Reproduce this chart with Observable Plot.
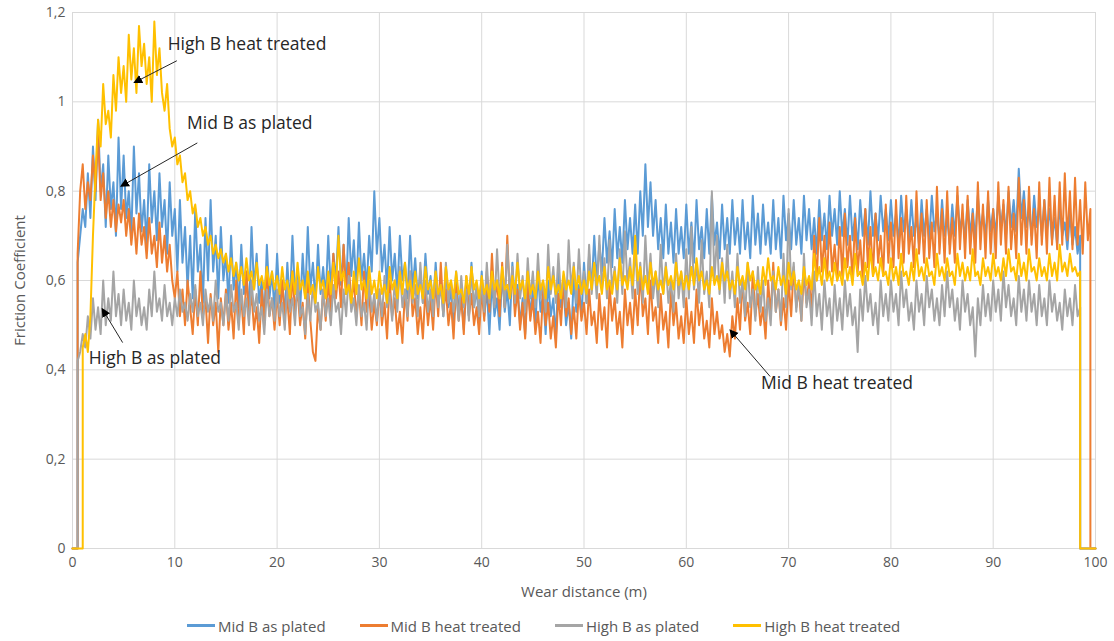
<!DOCTYPE html>
<html>
<head>
<meta charset="utf-8">
<script src="https://cdn.jsdelivr.net/npm/d3@7"></script>
<script src="https://cdn.jsdelivr.net/npm/@observablehq/plot@0.6"></script>
<style>
  body { margin: 0; background: #fff; font-family: "Open Sans", "Liberation Sans", sans-serif; }
  #legend { display: flex; align-items: center; margin-left: 187px; height: 31px; font-size: 15px; color: #595959; }
  #legend .item { display: flex; align-items: center; margin-right: 34px; }
  #legend .sw { width: 28px; height: 3px; margin-right: 3px; }
</style>
</head>
<body>
<div id="chart"></div>
<div id="legend"></div>
<script>
// Sampling grid of the wear distance (m)
const step = 0.25;
const seriesNames = ["Mid B as plated", "Mid B heat treated", "High B as plated", "High B heat treated"];
const seriesColors = ["#5B9BD5", "#ED7D31", "#A5A5A5", "#FFC000"];
const xTicks = [0, 10, 20, 30, 40, 50, 60, 70, 80, 90, 100];
const yTicks = [0, 0.2, 0.4, 0.6, 0.8, 1, 1.2];

const midAsPlated = [
  0, 0, 0.64, 0.70, 0.76, 0.72, 0.84, 0.74, 0.90, 0.78, 0.96, 0.80, 0.86, 0.72, 0.88, 0.76, 0.82, 0.70, 0.92, 0.76,
  0.88, 0.74, 0.80, 0.70, 0.90, 0.75, 0.84, 0.71, 0.78, 0.68, 0.86, 0.73, 0.80, 0.69, 0.84, 0.72, 0.78, 0.66, 0.82, 0.70,
  0.76, 0.62, 0.78, 0.64, 0.72, 0.58, 0.70, 0.56, 0.76, 0.62, 0.68, 0.55, 0.74, 0.60, 0.78, 0.62, 0.70, 0.56, 0.72, 0.60,
  0.66, 0.55, 0.70, 0.58, 0.64, 0.54, 0.68, 0.57, 0.62, 0.52, 0.72, 0.58, 0.66, 0.55, 0.60, 0.51, 0.68, 0.56, 0.62, 0.53,
  0.66, 0.55, 0.60, 0.52, 0.64, 0.54, 0.70, 0.57, 0.62, 0.53, 0.66, 0.56, 0.72, 0.58, 0.64, 0.55, 0.68, 0.57, 0.63, 0.56,
  0.70, 0.58, 0.66, 0.60, 0.72, 0.59, 0.68, 0.57, 0.74, 0.61, 0.69, 0.58, 0.73, 0.60, 0.66, 0.58, 0.70, 0.62, 0.80, 0.66,
  0.74, 0.62, 0.68, 0.58, 0.72, 0.60, 0.66, 0.57, 0.70, 0.60, 0.64, 0.56, 0.70, 0.58, 0.65, 0.56, 0.62, 0.55, 0.66, 0.57,
  0.61, 0.54, 0.64, 0.55, 0.60, 0.52, 0.63, 0.54, 0.58, 0.50, 0.62, 0.53, 0.57, 0.49, 0.60, 0.52, 0.64, 0.54, 0.58, 0.51,
  0.62, 0.52, 0.58, 0.48, 0.60, 0.52, 0.56, 0.49, 0.62, 0.53, 0.58, 0.50, 0.64, 0.54, 0.59, 0.50, 0.56, 0.48, 0.61, 0.52,
  0.58, 0.50, 0.62, 0.53, 0.57, 0.48, 0.60, 0.52, 0.56, 0.47, 0.62, 0.54, 0.58, 0.50, 0.55, 0.47, 0.61, 0.53, 0.59, 0.52,
  0.64, 0.55, 0.66, 0.58, 0.70, 0.60, 0.68, 0.62, 0.74, 0.64, 0.71, 0.63, 0.76, 0.65, 0.72, 0.64, 0.78, 0.67, 0.74, 0.66,
  0.77, 0.66, 0.80, 0.70, 0.86, 0.72, 0.82, 0.70, 0.78, 0.67, 0.74, 0.65, 0.77, 0.66, 0.73, 0.64, 0.76, 0.66, 0.72, 0.65,
  0.77, 0.66, 0.73, 0.64, 0.78, 0.67, 0.72, 0.65, 0.76, 0.66, 0.79, 0.68, 0.73, 0.65, 0.77, 0.67, 0.74, 0.66, 0.78, 0.68,
  0.74, 0.66, 0.78, 0.67, 0.73, 0.65, 0.79, 0.68, 0.75, 0.66, 0.77, 0.68, 0.73, 0.66, 0.78, 0.67, 0.74, 0.65, 0.79, 0.69,
  0.75, 0.67, 0.78, 0.68, 0.74, 0.66, 0.79, 0.69, 0.76, 0.67, 0.74, 0.66, 0.78, 0.69, 0.75, 0.67, 0.79, 0.70, 0.76, 0.68,
  0.80, 0.70, 0.76, 0.68, 0.79, 0.69, 0.75, 0.67, 0.78, 0.70, 0.76, 0.68, 0.80, 0.70, 0.75, 0.69, 0.79, 0.71, 0.76, 0.69,
  0.78, 0.70, 0.75, 0.68, 0.79, 0.71, 0.76, 0.69, 0.78, 0.70, 0.74, 0.68, 0.78, 0.70, 0.76, 0.69, 0.79, 0.71, 0.75, 0.69,
  0.78, 0.70, 0.74, 0.68, 0.77, 0.70, 0.79, 0.71, 0.75, 0.69, 0.78, 0.70, 0.76, 0.69, 0.79, 0.71, 0.75, 0.70, 0.78, 0.71,
  0.76, 0.70, 0.79, 0.72, 0.77, 0.70, 0.80, 0.72, 0.78, 0.71, 0.85, 0.74, 0.80, 0.72, 0.76, 0.70, 0.79, 0.72, 0.77, 0.70,
  0.78, 0.71, 0.76, 0.69, 0.74, 0.68, 0.77, 0.70, 0.73, 0.67, 0.75, 0.68, 0.72, 0.66, 0.70, 0, 0, 0, 0, 0,
  0
];
const midHeatTreated = [
  0, 0, 0.66, 0.80, 0.86, 0.76, 0.82, 0.78, 0.88, 0.80, 0.93, 0.78, 0.84, 0.74, 0.80, 0.72, 0.78, 0.71, 0.77, 0.73,
  0.78, 0.70, 0.76, 0.68, 0.74, 0.66, 0.75, 0.68, 0.72, 0.65, 0.74, 0.66, 0.70, 0.63, 0.73, 0.64, 0.70, 0.62, 0.68, 0.60,
  0.56, 0.62, 0.52, 0.58, 0.50, 0.60, 0.54, 0.48, 0.58, 0.50, 0.62, 0.52, 0.56, 0.46, 0.57, 0.50, 0.55, 0.44, 0.56, 0.50,
  0.58, 0.49, 0.55, 0.47, 0.60, 0.51, 0.56, 0.48, 0.62, 0.52, 0.57, 0.49, 0.54, 0.46, 0.58, 0.50, 0.63, 0.52, 0.56, 0.49,
  0.57, 0.50, 0.60, 0.52, 0.56, 0.48, 0.62, 0.53, 0.58, 0.50, 0.55, 0.47, 0.60, 0.51, 0.44, 0.42, 0.54, 0.49, 0.58, 0.51,
  0.60, 0.53, 0.66, 0.56, 0.62, 0.54, 0.68, 0.57, 0.64, 0.55, 0.60, 0.52, 0.58, 0.50, 0.62, 0.53, 0.57, 0.49, 0.55, 0.50,
  0.58, 0.50, 0.55, 0.47, 0.60, 0.52, 0.56, 0.48, 0.53, 0.46, 0.58, 0.51, 0.62, 0.52, 0.56, 0.48, 0.54, 0.47, 0.58, 0.50,
  0.56, 0.49, 0.60, 0.52, 0.64, 0.53, 0.58, 0.50, 0.55, 0.47, 0.59, 0.51, 0.56, 0.48, 0.61, 0.52, 0.57, 0.50, 0.54, 0.48,
  0.58, 0.51, 0.62, 0.53, 0.66, 0.55, 0.60, 0.52, 0.64, 0.54, 0.70, 0.56, 0.62, 0.52, 0.58, 0.49, 0.55, 0.47, 0.59, 0.51,
  0.56, 0.48, 0.53, 0.46, 0.58, 0.50, 0.55, 0.47, 0.52, 0.45, 0.57, 0.50, 0.60, 0.52, 0.56, 0.48, 0.54, 0.47, 0.58, 0.51,
  0.55, 0.48, 0.58, 0.50, 0.53, 0.46, 0.57, 0.49, 0.54, 0.45, 0.59, 0.51, 0.56, 0.48, 0.53, 0.45, 0.58, 0.50, 0.55, 0.48,
  0.58, 0.50, 0.62, 0.52, 0.56, 0.48, 0.60, 0.51, 0.54, 0.46, 0.57, 0.49, 0.53, 0.45, 0.58, 0.50, 0.55, 0.47, 0.52, 0.46,
  0.56, 0.48, 0.53, 0.46, 0.58, 0.50, 0.55, 0.47, 0.51, 0.45, 0.56, 0.48, 0.53, 0.47, 0.50, 0.44, 0.48, 0.43, 0.52, 0.47,
  0.56, 0.49, 0.60, 0.51, 0.55, 0.48, 0.62, 0.52, 0.57, 0.50, 0.54, 0.47, 0.60, 0.52, 0.64, 0.53, 0.58, 0.50, 0.56, 0.49,
  0.60, 0.52, 0.63, 0.54, 0.58, 0.51, 0.62, 0.55, 0.60, 0.53, 0.70, 0.60, 0.74, 0.62, 0.70, 0.60, 0.73, 0.62, 0.68, 0.60,
  0.72, 0.61, 0.75, 0.63, 0.70, 0.60, 0.74, 0.62, 0.69, 0.60, 0.76, 0.63, 0.72, 0.61, 0.75, 0.64, 0.70, 0.61, 0.77, 0.64,
  0.73, 0.63, 0.78, 0.65, 0.74, 0.64, 0.79, 0.66, 0.72, 0.63, 0.80, 0.66, 0.75, 0.64, 0.78, 0.65, 0.73, 0.63, 0.81, 0.66,
  0.76, 0.64, 0.80, 0.66, 0.74, 0.64, 0.81, 0.67, 0.77, 0.65, 0.79, 0.66, 0.75, 0.64, 0.82, 0.67, 0.77, 0.65, 0.80, 0.66,
  0.76, 0.65, 0.82, 0.68, 0.78, 0.66, 0.81, 0.67, 0.75, 0.65, 0.83, 0.68, 0.78, 0.66, 0.81, 0.68, 0.76, 0.65, 0.82, 0.68,
  0.78, 0.66, 0.83, 0.68, 0.79, 0.67, 0.82, 0.68, 0.84, 0.69, 0.80, 0.67, 0.83, 0.68, 0.78, 0.66, 0.82, 0.69, 0.76, 0,
  0
];
const highAsPlated = [
  0, 0, 0.42, 0.44, 0.48, 0.45, 0.52, 0.47, 0.56, 0.49, 0.54, 0.48, 0.60, 0.50, 0.56, 0.51, 0.62, 0.52, 0.57, 0.50,
  0.58, 0.51, 0.55, 0.49, 0.60, 0.52, 0.56, 0.50, 0.54, 0.49, 0.58, 0.52, 0.62, 0.53, 0.56, 0.51, 0.59, 0.52, 0.55, 0.50,
  0.56, 0.52, 0.58, 0.53, 0.55, 0.51, 0.57, 0.53, 0.59, 0.52, 0.55, 0.50, 0.58, 0.53, 0.56, 0.51, 0.60, 0.53, 0.55, 0.50,
  0.57, 0.51, 0.59, 0.53, 0.55, 0.49, 0.58, 0.52, 0.56, 0.50, 0.60, 0.53, 0.57, 0.51, 0.54, 0.48, 0.58, 0.52, 0.56, 0.51,
  0.58, 0.52, 0.55, 0.49, 0.59, 0.53, 0.56, 0.50, 0.60, 0.52, 0.54, 0.48, 0.57, 0.51, 0.59, 0.53, 0.55, 0.49, 0.58, 0.52,
  0.56, 0.50, 0.59, 0.53, 0.55, 0.48, 0.58, 0.52, 0.61, 0.53, 0.56, 0.50, 0.59, 0.52, 0.55, 0.49, 0.60, 0.53, 0.57, 0.51,
  0.58, 0.52, 0.61, 0.54, 0.57, 0.51, 0.60, 0.53, 0.63, 0.54, 0.58, 0.52, 0.62, 0.55, 0.59, 0.52, 0.64, 0.55, 0.60, 0.53,
  0.58, 0.52, 0.62, 0.54, 0.59, 0.52, 0.64, 0.55, 0.60, 0.53, 0.57, 0.51, 0.61, 0.54, 0.58, 0.51, 0.63, 0.54, 0.59, 0.52,
  0.60, 0.53, 0.64, 0.55, 0.61, 0.54, 0.67, 0.56, 0.62, 0.54, 0.68, 0.57, 0.63, 0.55, 0.66, 0.56, 0.61, 0.53, 0.65, 0.56,
  0.62, 0.54, 0.66, 0.56, 0.60, 0.53, 0.68, 0.57, 0.63, 0.55, 0.66, 0.56, 0.61, 0.54, 0.69, 0.58, 0.64, 0.55, 0.67, 0.57,
  0.62, 0.55, 0.68, 0.57, 0.64, 0.56, 0.70, 0.58, 0.65, 0.56, 0.69, 0.58, 0.63, 0.55, 0.67, 0.57, 0.71, 0.59, 0.65, 0.56,
  0.68, 0.57, 0.64, 0.55, 0.70, 0.58, 0.66, 0.56, 0.62, 0.54, 0.68, 0.57, 0.64, 0.55, 0.60, 0.53, 0.66, 0.56, 0.62, 0.54,
  0.67, 0.56, 0.72, 0.58, 0.64, 0.55, 0.69, 0.57, 0.62, 0.54, 0.80, 0.60, 0.70, 0.57, 0.65, 0.55, 0.68, 0.56, 0.62, 0.54,
  0.66, 0.55, 0.60, 0.52, 0.64, 0.54, 0.58, 0.51, 0.63, 0.53, 0.60, 0.51, 0.56, 0.50, 0.62, 0.53, 0.58, 0.51, 0.66, 0.54,
  0.76, 0.58, 0.64, 0.53, 0.60, 0.51, 0.66, 0.54, 0.58, 0.50, 0.62, 0.52, 0.57, 0.49, 0.60, 0.52, 0.56, 0.48, 0.59, 0.51,
  0.56, 0.49, 0.60, 0.52, 0.57, 0.50, 0.54, 0.44, 0.58, 0.51, 0.61, 0.53, 0.57, 0.50, 0.55, 0.48, 0.60, 0.52, 0.57, 0.51,
  0.60, 0.53, 0.57, 0.50, 0.62, 0.54, 0.58, 0.51, 0.55, 0.49, 0.60, 0.53, 0.57, 0.50, 0.61, 0.54, 0.58, 0.51, 0.56, 0.50,
  0.59, 0.52, 0.62, 0.54, 0.58, 0.51, 0.56, 0.49, 0.60, 0.53, 0.57, 0.50, 0.54, 0.43, 0.56, 0.50, 0.59, 0.52, 0.57, 0.51,
  0.60, 0.53, 0.58, 0.51, 0.62, 0.54, 0.59, 0.52, 0.56, 0.50, 0.61, 0.53, 0.58, 0.51, 0.60, 0.53, 0.57, 0.50, 0.59, 0.52,
  0.56, 0.50, 0.60, 0.53, 0.57, 0.51, 0.55, 0.49, 0.58, 0.52, 0.56, 0.50, 0.59, 0.52, 0.54, 0, 0, 0, 0, 0,
  0
];
const highHeatTreated = [
  0, 0, 0, 0, 0.45, 0.48, 0.44, 0.52, 0.70, 0.84, 0.96, 0.90, 1.04, 0.95, 0.98, 0.92, 1.06, 0.98, 1.10, 1.02,
  1.08, 1.00, 1.15, 1.05, 1.12, 1.02, 1.17, 1.08, 1.13, 1.04, 1.10, 1.00, 1.18, 1.06, 1.12, 1.02, 0.98, 1.04, 0.94, 0.90,
  0.92, 0.86, 0.88, 0.82, 0.84, 0.78, 0.80, 0.75, 0.77, 0.72, 0.74, 0.70, 0.72, 0.68, 0.70, 0.66, 0.68, 0.65, 0.67, 0.64,
  0.66, 0.62, 0.65, 0.61, 0.64, 0.60, 0.63, 0.59, 0.65, 0.60, 0.62, 0.58, 0.64, 0.59, 0.61, 0.58, 0.63, 0.59, 0.62, 0.58,
  0.61, 0.57, 0.63, 0.58, 0.60, 0.56, 0.62, 0.57, 0.64, 0.58, 0.60, 0.56, 0.62, 0.57, 0.59, 0.55, 0.63, 0.58, 0.60, 0.56,
  0.62, 0.57, 0.64, 0.58, 0.70, 0.60, 0.62, 0.57, 0.59, 0.55, 0.62, 0.57, 0.65, 0.58, 0.60, 0.56, 0.63, 0.57, 0.60, 0.56,
  0.62, 0.57, 0.59, 0.55, 0.63, 0.58, 0.60, 0.56, 0.62, 0.57, 0.64, 0.58, 0.60, 0.56, 0.62, 0.57, 0.59, 0.56, 0.63, 0.58,
  0.60, 0.56, 0.62, 0.57, 0.59, 0.55, 0.63, 0.58, 0.60, 0.56, 0.62, 0.57, 0.58, 0.55, 0.61, 0.57, 0.63, 0.58, 0.60, 0.56,
  0.61, 0.57, 0.59, 0.56, 0.62, 0.58, 0.60, 0.56, 0.63, 0.58, 0.59, 0.56, 0.61, 0.57, 0.64, 0.58, 0.60, 0.56, 0.62, 0.57,
  0.59, 0.56, 0.62, 0.58, 0.60, 0.56, 0.63, 0.58, 0.61, 0.57, 0.59, 0.56, 0.62, 0.58, 0.60, 0.57, 0.63, 0.58, 0.61, 0.57,
  0.60, 0.57, 0.62, 0.58, 0.64, 0.59, 0.61, 0.57, 0.63, 0.58, 0.60, 0.57, 0.62, 0.58, 0.65, 0.59, 0.61, 0.58, 0.63, 0.59,
  0.70, 0.60, 0.63, 0.58, 0.61, 0.57, 0.64, 0.59, 0.62, 0.58, 0.60, 0.57, 0.63, 0.59, 0.61, 0.58, 0.64, 0.59, 0.62, 0.58,
  0.61, 0.58, 0.63, 0.59, 0.65, 0.60, 0.62, 0.58, 0.60, 0.57, 0.63, 0.59, 0.61, 0.58, 0.64, 0.60, 0.62, 0.58, 0.60, 0.57,
  0.63, 0.59, 0.61, 0.58, 0.64, 0.60, 0.62, 0.58, 0.60, 0.57, 0.63, 0.59, 0.65, 0.60, 0.61, 0.58, 0.63, 0.59, 0.61, 0.57,
  0.64, 0.59, 0.62, 0.58, 0.60, 0.57, 0.63, 0.59, 0.61, 0.58, 0.66, 0.60, 0.63, 0.59, 0.65, 0.60, 0.62, 0.59, 0.64, 0.60,
  0.62, 0.59, 0.65, 0.60, 0.63, 0.59, 0.66, 0.61, 0.62, 0.59, 0.64, 0.60, 0.67, 0.61, 0.63, 0.60, 0.65, 0.61, 0.62, 0.59,
  0.65, 0.60, 0.63, 0.59, 0.66, 0.61, 0.62, 0.59, 0.64, 0.60, 0.67, 0.61, 0.63, 0.60, 0.65, 0.61, 0.62, 0.59, 0.66, 0.61,
  0.63, 0.60, 0.65, 0.61, 0.62, 0.59, 0.66, 0.61, 0.64, 0.60, 0.63, 0.60, 0.67, 0.61, 0.62, 0.59, 0.65, 0.61, 0.63, 0.60,
  0.66, 0.61, 0.63, 0.60, 0.65, 0.61, 0.67, 0.62, 0.63, 0.60, 0.66, 0.61, 0.64, 0.60, 0.67, 0.62, 0.63, 0.60, 0.65, 0.61,
  0.63, 0.60, 0.66, 0.61, 0.64, 0.60, 0.68, 0.62, 0.64, 0.61, 0.66, 0.62, 0.63, 0.61, 0.62, 0, 0, 0, 0, 0,
  0
];

// Annotations (labels and pointer arrows, in data units)
const annoText = ["High B heat treated", "Mid B as plated", "High B as plated", "Mid B heat treated"];
const annoX = [9.3, 11.2, 1.6, 67.3];
const annoY = [1.128, 0.951, 0.425, 0.370];
const arrowX1 = [10.2, 12.2, 4.9, 68.2];
const arrowY1 = [1.092, 0.908, 0.461, 0.385];
const arrowX2 = [6.2, 4.9, 3.0, 64.4];
const arrowY2 = [1.045, 0.813, 0.533, 0.486];

const allSeries = [midAsPlated, midHeatTreated, highAsPlated, highHeatTreated];
const rows = [];
allSeries.forEach((vals, s) => vals.forEach((v, i) => {
  let x = i * step;
  // zero readings sit at the same distance as the neighbouring reading (vertical rise / drop)
  if (v === 0 && i > 0 && vals[i - 1] !== 0) x = (i - 1) * step;
  else if (v === 0 && i < vals.length - 1 && vals[i + 1] !== 0) x = (i + 1) * step;
  rows.push({series: seriesNames[s], x, y: v});
}));
const annos = annoText.map((t, i) => ({t, x: annoX[i], y: annoY[i], x1: arrowX1[i], y1: arrowY1[i], x2: arrowX2[i], y2: arrowY2[i]}));

const fmt = d => (+d.toFixed(1)).toString().replace(".", ",");

function triangleMarker(color, context) {
  const m = d3.select(context.document.createElementNS("http://www.w3.org/2000/svg", "marker"))
    .attr("viewBox", "-6 -5 10 10")
    .attr("markerWidth", 10).attr("markerHeight", 10)
    .attr("markerUnits", "userSpaceOnUse")
    .attr("orient", "auto")
    .attr("fill", "#000").attr("stroke", "none");
  m.append("path").attr("d", "M-6,-4.5L3,0L-6,4.5Z");
  return m.node();
}

const chart = Plot.plot({
  width: 1114,
  height: 610,
  marginLeft: 72,
  marginRight: 19,
  marginTop: 12,
  marginBottom: 62,
  style: {fontFamily: "'Open Sans', 'Liberation Sans', sans-serif", fontSize: "14px", color: "#595959", background: "#fff"},
  x: {domain: [0, 100]},
  y: {domain: [0, 1.2]},
  color: {domain: seriesNames, range: seriesColors},
  marks: [
    Plot.gridX(xTicks, {stroke: "#d9d9d9", strokeOpacity: 1, strokeWidth: 1}),
    Plot.gridY(yTicks, {stroke: "#d9d9d9", strokeOpacity: 1, strokeWidth: 1}),
    Plot.axisX(xTicks, {tickSize: 0, tickPadding: 9, fontSize: 14, fill: "#595959",
      label: "Wear distance (m)", labelAnchor: "center", labelOffset: 48, labelArrow: "none"}),
    Plot.axisY(yTicks, {tickSize: 0, tickPadding: 7, fontSize: 14, fill: "#595959", tickFormat: fmt,
      label: "Friction Coefficient", labelAnchor: "center", labelOffset: 58, labelArrow: "none"}),
    Plot.lineY(rows, {x: "x", y: "y", z: "series", stroke: "series", strokeWidth: 2, curve: "linear"}),
    Plot.link(annos, {x1: "x1", y1: "y1", x2: "x2", y2: "y2", stroke: "#262626", strokeWidth: 1, markerEnd: triangleMarker}),
    Plot.text(annos, {x: "x", y: "y", text: "t", textAnchor: "start", fontSize: 17.5, fill: "#262626"})
  ]
});
document.getElementById("chart").appendChild(chart);
chart.querySelectorAll("g[aria-label='x-axis label'] text, g[aria-label='y-axis label'] text").forEach(t => t.setAttribute("font-size", "15"));

const legend = d3.select("#legend");
seriesNames.forEach((n, i) => {
  const it = legend.append("div").attr("class", "item");
  it.append("div").attr("class", "sw").style("background", seriesColors[i]);
  it.append("span").text(n);
});
</script>
</body>
</html>
